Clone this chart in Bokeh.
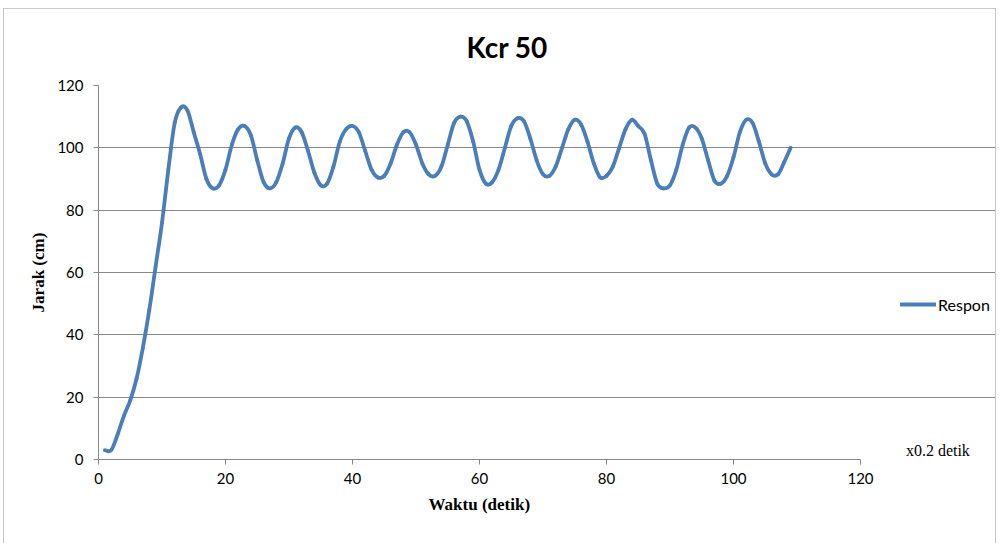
from bokeh.plotting import figure
from bokeh.models import Range1d, Legend, LegendItem, Label, FixedTicker, Title
from bokeh.embed import file_html
from bokeh.resources import INLINE

# ---- data ----
waktu = list(range(1, 110))
respon = [3, 3, 8, 14, 19, 26, 36, 48, 62, 76,
          93, 108, 113, 112, 105, 98, 90, 87, 88, 93,
          101, 106, 107, 104, 96, 89, 87, 89, 95, 103,
          106.5, 105, 99, 92, 88, 88.5, 94, 102, 106, 107,
          105, 99, 93, 90.5, 91, 95, 101, 105, 105, 101,
          95, 91.5, 91, 94, 101, 108, 110, 108.5, 102, 93,
          88.5, 89, 93, 100, 107, 109.5, 108.5, 103, 96, 91.5,
          91, 94, 100, 106, 109, 107.5, 102, 95, 90.5, 91,
          94, 100, 106, 109, 107, 104.5, 96, 88.5, 87, 88,
          93, 101, 106.5, 106.5, 103, 96, 89.5, 88.5, 91, 97,
          105, 109, 108, 102, 95, 91.5, 91.5, 95.5, 100]
x_ticks = [0, 20, 40, 60, 80, 100, 120]
y_ticks = [0, 20, 40, 60, 80, 100, 120]
title_text = "Kcr 50"
series_name = "Respon"
unit_note = "x0.2  detik"
x_label = "Waktu (detik)"
y_label = "Jarak (cm)"

# ---- smoothed (Excel-style) bezier segments built from the data ----
n = len(waktu)
x0, y0, x1, y1, cx0, cy0, cx1, cy1 = [], [], [], [], [], [], [], []
for i in range(n - 1):
    ip = max(i - 1, 0)
    i2 = min(i + 2, n - 1)
    x0.append(waktu[i]); y0.append(respon[i])
    x1.append(waktu[i + 1]); y1.append(respon[i + 1])
    cx0.append(waktu[i] + (waktu[i + 1] - waktu[ip]) / 6)
    cy0.append(respon[i] + (respon[i + 1] - respon[ip]) / 6)
    cx1.append(waktu[i + 1] - (waktu[i2] - waktu[i]) / 6)
    cy1.append(respon[i + 1] - (respon[i2] - respon[i]) / 6)

GRID = "#888888"
BLUE = "#4a7ebb"

# frame spans to the right edge so that legend/note are visible; axis & grid bounded to 0..120
X_END = 120 * 897 / 762

p = figure(width=993, height=536, output_backend="svg", toolbar_location=None,
           x_range=Range1d(0, X_END), y_range=Range1d(0, 120),
           min_border_left=94, min_border_right=2, min_border_top=76, min_border_bottom=86)
p.margin = (8, 0, 0, 3)
p.styles = {"border": "1px solid #c8c8c8"}
p.outline_line_color = None
p.background_fill_color = "white"
p.border_fill_color = "white"

r = p.bezier(x0=x0, y0=y0, x1=x1, y1=y1, cx0=cx0, cy0=cy0, cx1=cx1, cy1=cy1,
             line_color=BLUE, line_width=3.8, line_cap="round", line_join="round")

# axes
p.xaxis.ticker = FixedTicker(ticks=x_ticks)
p.yaxis.ticker = FixedTicker(ticks=y_ticks)
p.xaxis.bounds = (0, 120)
for ax in (p.xaxis[0], p.yaxis[0]):
    ax.axis_line_color = GRID
    ax.major_tick_line_color = GRID
    ax.major_tick_out = 5
    ax.major_tick_in = 0
    ax.minor_tick_line_color = None
    ax.major_label_text_font = "Lato"
    ax.major_label_text_font_size = "15px"
    ax.major_label_text_color = "#000000"
    ax.axis_label_text_font = "Liberation Serif"
    ax.axis_label_text_font_style = "bold"
    ax.axis_label_text_font_size = "17px"
    ax.axis_label_text_color = "#000000"
p.yaxis.axis_label = y_label
p.xaxis.major_label_standoff = 8
p.yaxis.major_label_standoff = 10
p.yaxis.axis_label_standoff = 6

p.xgrid.grid_line_color = None
p.ygrid.grid_line_color = GRID
p.ygrid.grid_line_width = 1
p.ygrid.bounds = (0, 120)

# title
p.title.text = title_text
p.title.text_font = "Lato"
p.title.text_font_style = "bold"
p.title.text_font_size = "28px"
p.title.text_color = "#000000"
p.title.align = "left"
p.title.vertical_align = "top"
p.title.offset = 368
p.title.standoff = 40

# x axis label (as a below-title so it is centred under the 0..120 span)
p.add_layout(Title(text=x_label, text_font="Liberation Serif", text_font_style="bold",
                   text_font_size="17px", text_color="#000000", align="left",
                   offset=330, standoff=12), "below")

# legend
legend = Legend(items=[LegendItem(label=series_name, renderers=[r])],
                location=(802, 145), orientation="vertical",
                glyph_width=36, glyph_height=20, label_standoff=2,
                padding=0, margin=0, border_line_color=None,
                background_fill_alpha=0, label_text_font="Lato",
                label_text_font_size="16px", label_text_color="#000000")
p.add_layout(legend, "center")

# unit note
p.add_layout(Label(x=132.5, y=3.0, text=unit_note, text_font="Liberation Serif",
                   text_font_size="16px", text_align="center", text_baseline="middle",
                   text_color="#000000"))

open("out.html", "w").write(file_html(p, INLINE))
